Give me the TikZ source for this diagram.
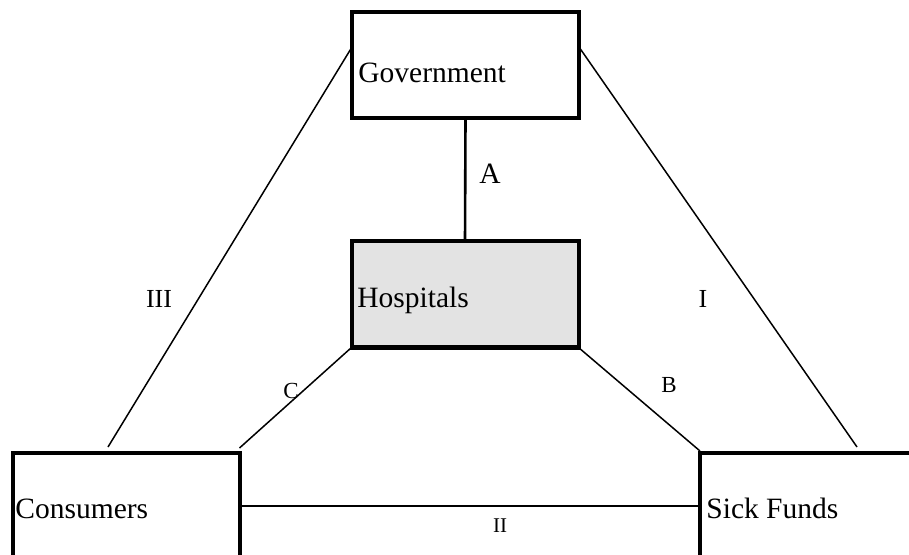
\documentclass[tikz,border=0pt]{standalone}
\usepackage{fontspec}
\setmainfont{Liberation Serif}
\usepackage{tikz}
\tikzstyle{box}=[rectangle, draw, line width=2pt, inner sep=0pt, outer sep=0pt,
	                minimum width=113.5pt, minimum height=53pt]
\tikzstyle{txt}=[inner sep=0pt, anchor=base west, font=\fontsize{14.75}{17}\selectfont]
\tikzstyle{lab}=[inner sep=0pt, anchor=base]
\tikzstyle{link}=[line width=0.75pt]

\begin{document}
\begin{tikzpicture}[x=0.5pt, y=-0.5pt]
\useasboundingbox (0,0) rectangle (909,555);
\node [box] (gov) at (465.5,65) {};
\node [box, fill=black!11] (hosp) at (465,294.5) {};
\node [box] (cons) at (126,506) {};
\node [box] (sick) at (813.5,506) {};
\node [txt] (govtxt) at (358,83) {Government};
\node [txt] (hosptxt) at (357,307) {Hospitals};
\node [txt] (constxt) at (15,518) {Consumers};
\node [txt] (sicktxt) at (706,518) {Sick Funds};
\coordinate (endIII) at (108,447);
\coordinate (endI) at (857,447);
\draw [line width=1.3pt] (gov.south) -- (hosp.north);
\draw [link] ([yshift=9pt]gov.west) -- (endIII);
\draw [link] ([yshift=9pt]gov.east) -- (endI);
\draw [link] (hosp.south west) -- ([yshift=2.5pt]cons.north east);
\draw [link] (hosp.south east) -- ([yshift=1pt]sick.north west);
\draw [line width=1pt] (cons.east) -- (sick.west);
\node [lab, font=\fontsize{14.75}{17}\selectfont] (labA) at (490,184) {A};
\node [lab, font=\fontsize{13}{15}\selectfont] (labIII) at (159,307) {III};
\node [lab, font=\fontsize{13}{15}\selectfont] (labI) at (703,307) {I};
\node [lab, font=\fontsize{10.5}{12}\selectfont] (labII) at (500,532) {II};
\node [lab, font=\fontsize{11.5}{13}\selectfont] (labC) at (291,398) {C};
\node [lab, font=\fontsize{11.5}{13}\selectfont] (labB) at (669,393) {B};
\end{tikzpicture}
\end{document}
